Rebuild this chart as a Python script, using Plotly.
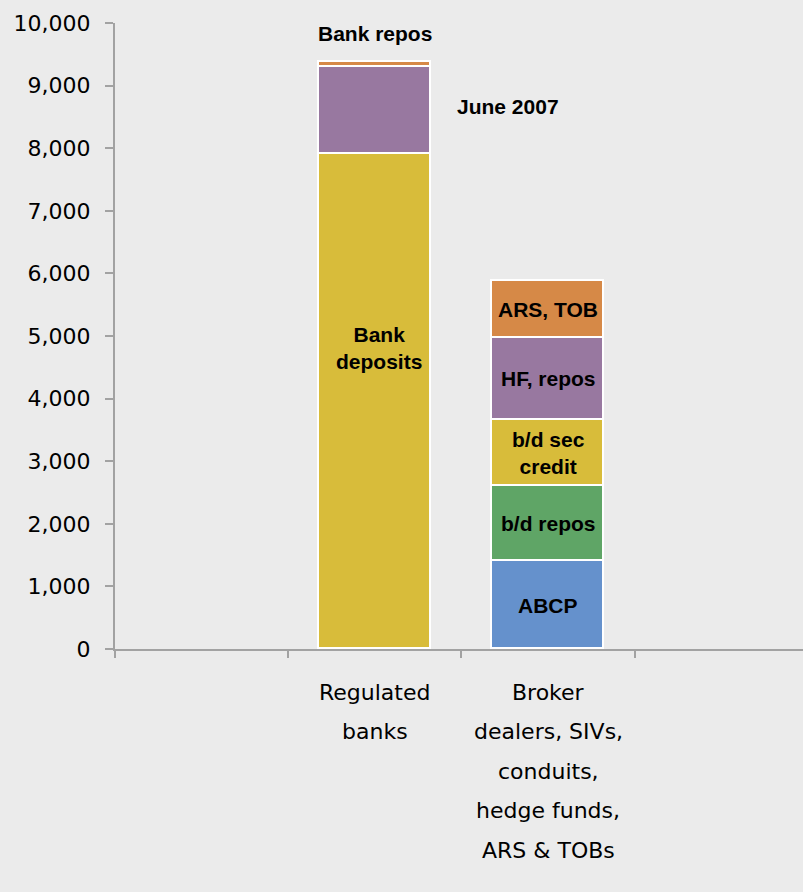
import plotly.graph_objects as go

# Funding sources, June 2007 (billions of USD)
categories = ["Regulated<br>banks", "Broker<br>dealers, SIVs,<br>conduits,<br>hedge funds,<br>ARS & TOBs"]
x_pos = [1, 2]  # slot 0 and slot 3 are left empty

seg_names = ["ABCP", "b/d repos", "Bank deposits / b/d sec credit", "Bank / HF repos", "ARS, TOB"]
abcp = [None, 1400]
bd_repos = [None, 1210]
deposits_sec_credit = [7910, 1050]
repos_purple = [1380, 1315]
ars_tob = [90, 900]
colors = ["#6591cc", "#5fa566", "#d8bc3a", "#9878a0", "#d68947"]

series = [abcp, bd_repos, deposits_sec_credit, repos_purple, ars_tob]

BG = "#ebebeb"
AXIS = "#a2a2a2"
LABEL_FONT = dict(family="Liberation Sans, Arial, sans-serif", size=21, color="#000000", weight="bold")
TICK_FONT = dict(family="DejaVu Sans, Verdana, sans-serif", size=22, color="#000000")

fig = go.Figure()
for name, vals, col in zip(seg_names, series, colors):
    fig.add_trace(go.Bar(
        x=x_pos, y=vals, name=name, width=0.65,
        marker=dict(color=col, line=dict(color="#ffffff", width=1.6)),
        hoverinfo="name+y",
    ))

annotations = []

# in-bar labels for the broker-dealer column, centred on each segment
broker_labels = ["ABCP", "b/d repos", "b/d sec<br>credit", "HF, repos", "ARS, TOB"]
base = 0
for lab, vals in zip(broker_labels, series):
    v = vals[1]
    annotations.append(dict(x=2, y=base + v / 2, text=lab, showarrow=False,
                            font=LABEL_FONT, xanchor="center", yanchor="middle"))
    base += v

# labels for the regulated-bank column
annotations.append(dict(x=1, y=4813, text="Bank<br>deposits", xshift=4, showarrow=False,
                        font=LABEL_FONT, xanchor="center", yanchor="middle"))
annotations.append(dict(x=1, y=9840, text="Bank repos", showarrow=False,
                        font=LABEL_FONT, xanchor="center", yanchor="middle"))
annotations.append(dict(x=1.768, y=8663, text="June 2007", showarrow=False,
                        font=LABEL_FONT, xanchor="center", yanchor="middle"))

# category names under the axis, one line at a time for wider line spacing
LINE_STEP = 39.5
FIRST_LINE = 43
for xp, cat in zip(x_pos, categories):
    for i, line in enumerate(cat.split("<br>")):
        annotations.append(dict(x=xp, y=0, xref="x", yref="paper", text=line, showarrow=False,
                                font=TICK_FONT, xanchor="center", yanchor="middle",
                                yshift=-(FIRST_LINE + i * LINE_STEP)))

fig.update_layout(
    barmode="stack",
    width=803, height=892,
    margin=dict(l=115, r=0, t=23, b=243, pad=0),
    paper_bgcolor=BG, plot_bgcolor=BG,
    showlegend=False,
    annotations=annotations,
    bargap=0,
)

fig.update_xaxes(
    range=[-0.5, 3.472],
    tickmode="array", tickvals=[-0.5, 0.5, 1.5, 2.5], ticktext=["", "", "", ""],
    ticks="outside", ticklen=7, tickwidth=1.5, tickcolor=AXIS,
    showline=True, linecolor=AXIS, linewidth=2,
    showgrid=False, zeroline=False,
)
fig.update_yaxes(
    range=[0, 10000], dtick=1000, tick0=0, tickformat=",",
    ticks="outside", ticklen=8, tickwidth=1.5, tickcolor=AXIS,
    ticklabelstandoff=10,
    showline=True, linecolor=AXIS, linewidth=2,
    showgrid=False, zeroline=False,
    tickfont=TICK_FONT,
)

fig.write_html("out.html")
